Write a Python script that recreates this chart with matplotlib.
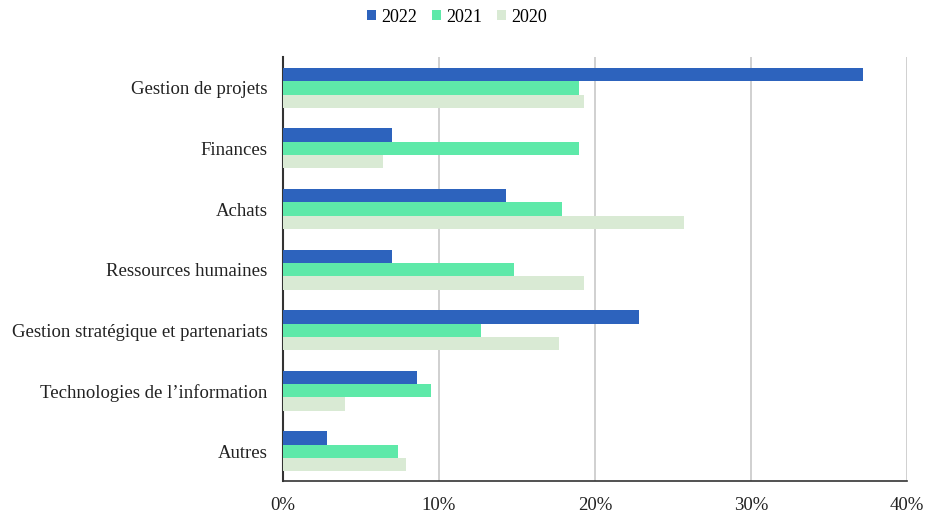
import numpy as np
import matplotlib.pyplot as plt
from matplotlib.ticker import PercentFormatter

categories = ["Gestion de projets", "Finances", "Achats", "Ressources humaines",
              "Gestion stratégique et partenariats", "Technologies de l\u2019information", "Autres"]
v2022 = [37.2, 7.0, 14.3, 7.0, 22.8, 8.6, 2.8]
v2021 = [19.0, 19.0, 17.9, 14.8, 12.7, 9.5, 7.4]
v2020 = [19.3, 6.4, 25.7, 19.3, 17.7, 4.0, 7.9]
years = ["2022", "2021", "2020"]
colors = ["#2D63BD", "#5EE9A9", "#D9EAD4"]

plt.rcParams['font.family'] = ['Liberation Serif', 'DejaVu Serif']

fig = plt.figure(figsize=(9.28, 5.16), dpi=100)
ax = fig.add_axes([283/928, 1-481/516, (907-283)/928, (481-57)/516])

y = np.arange(len(categories))
h = 0.22
for i, (vals, lab, c) in enumerate(zip([v2022, v2021, v2020], years, colors)):
    ax.barh(y + (i-1)*h, vals, height=h, color=c, label=lab, zorder=3)

ax.set_ylim(6.49, -0.51)
ax.set_xlim(0, 40)
ax.set_xticks([0, 10, 20, 30, 40])
ax.xaxis.set_major_formatter(PercentFormatter(decimals=0))
ax.set_yticks(y)
ax.set_yticklabels(categories)
ax.tick_params(axis='both', length=0, labelsize=13.5, colors='#222222')
ax.tick_params(axis='x', pad=11.5)
ax.tick_params(axis='y', pad=11)
ax.grid(axis='x', color='#c8c8c8', linewidth=1.2, zorder=0)
for s in ['top', 'right']:
    ax.spines[s].set_visible(False)
ax.spines['left'].set_color('#333333')
ax.spines['bottom'].set_color('#333333')
ax.spines['left'].set_linewidth(1.5)
ax.spines['bottom'].set_linewidth(1.2)

fig.legend(loc='center', bbox_to_anchor=(457/928, 1-17/516), ncol=3, frameon=False,
           fontsize=13, handlelength=0.5, handleheight=0.5, handletextpad=0.3, columnspacing=0.8)

fig.savefig("out.png", dpi=100)
